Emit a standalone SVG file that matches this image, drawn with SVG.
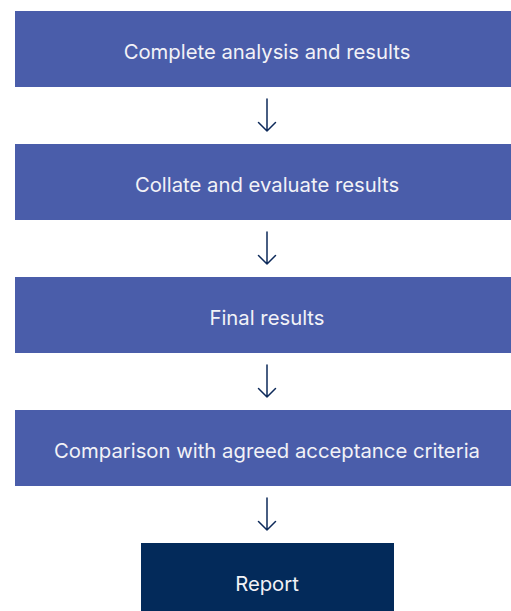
<svg xmlns="http://www.w3.org/2000/svg" width="511" height="611" viewBox="0 0 511 611">
<style>
.box{fill:#4a5daa}
.dark{fill:#032a5a}
.t{font-family:Inter,"Liberation Sans",sans-serif;font-size:20.3px;fill:#f2f2f7;text-anchor:middle;dominant-baseline:central}
.arr{stroke:#0d2a5a;stroke-width:1.5;fill:none;stroke-linecap:round;stroke-linejoin:round}
</style>
<rect width="511" height="611" fill="#ffffff"/>
<g id="n1"><rect class="box" x="15" y="11" width="504" height="76"/><text class="t" x="267" y="51">Complete analysis and results</text></g>
<g id="n2"><rect class="box" x="15" y="144" width="504" height="76"/><text class="t" x="267" y="184">Collate and evaluate results</text></g>
<g id="n3"><rect class="box" x="15" y="277" width="504" height="76"/><text class="t" x="267" y="317">Final results</text></g>
<g id="n4"><rect class="box" x="15" y="410" width="504" height="76"/><text class="t" x="267" y="450">Comparison with agreed acceptance criteria</text></g>
<g id="n5"><rect class="dark" x="141" y="543" width="253" height="80"/><text class="t" x="267" y="583">Report</text></g>
<g id="connectors">
<path class="arr" d="M267 99V131M258.5 122.5L267 131L275.5 122.5"/>
<path class="arr" d="M267 232V264M258.5 255.5L267 264L275.5 255.5"/>
<path class="arr" d="M267 365V397M258.5 388.5L267 397L275.5 388.5"/>
<path class="arr" d="M267 498V530M258.5 521.5L267 530L275.5 521.5"/>
</g>
</svg>
